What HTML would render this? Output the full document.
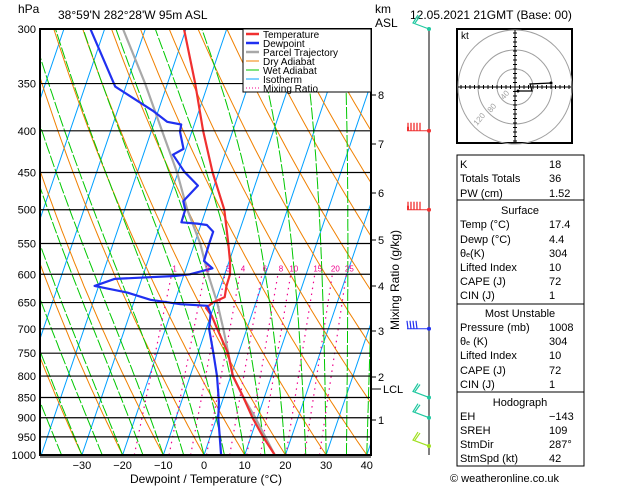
<!DOCTYPE html>
<html><head><meta charset="utf-8">
<style>
html,body{margin:0;padding:0;background:#fff;}
svg{display:block;font-family:"Liberation Sans",sans-serif;}
.t{font-size:12px;fill:#000;}
.s{font-size:10px;fill:#000;}
</style></head>
<body>
<svg id="c" width="629" height="486" viewBox="0 0 629 486">
<defs><clipPath id="pc"><rect x="40" y="29" width="331" height="426"/></clipPath></defs>
<g id="bg" clip-path="url(#pc)"></g>
<g id="fg" clip-path="url(#pc)"></g>
<g id="ax"></g>
<text class="t" x="18" y="13">hPa</text>
<text class="t" x="58" y="19">38°59'N  282°28'W  95m  ASL</text>
<text class="t" x="375" y="13">km</text>
<text class="t" x="375" y="27">ASL</text>
<text class="t" x="410" y="19">12.05.2021  21GMT  (Base: 00)</text>
<text class="t" x="206" y="483" text-anchor="middle">Dewpoint  /  Temperature  (°C)</text>
<text class="t" x="0" y="0" transform="translate(399,280) rotate(-90)" text-anchor="middle">Mixing  Ratio  (g/kg)</text>
<g>
<rect x="243" y="29" width="128" height="63" fill="#fff" stroke="#000" stroke-width="1"/>
<line x1="246" y1="34" x2="259" y2="34" stroke="#f03030" stroke-width="2.5"/><text class="s" x="263" y="38">Temperature</text>
<line x1="246" y1="43" x2="259" y2="43" stroke="#2030f0" stroke-width="2.5"/><text class="s" x="263" y="47">Dewpoint</text>
<line x1="246" y1="52" x2="259" y2="52" stroke="#a8a8a8" stroke-width="2.5"/><text class="s" x="263" y="56">Parcel  Trajectory</text>
<line x1="246" y1="61" x2="259" y2="61" stroke="#f08000" stroke-width="1"/><text class="s" x="263" y="65">Dry  Adiabat</text>
<line x1="246" y1="70" x2="259" y2="70" stroke="#00c800" stroke-width="1"/><text class="s" x="263" y="74">Wet  Adiabat</text>
<line x1="246" y1="79" x2="259" y2="79" stroke="#00a0ff" stroke-width="1"/><text class="s" x="263" y="83">Isotherm</text>
<line x1="246" y1="88" x2="259" y2="88" stroke="#f0008c" stroke-width="1" stroke-dasharray="1,2"/><text class="s" x="263" y="92">Mixing  Ratio</text>
</g>
<g id="hodo">
<rect x="457" y="29" width="115" height="114" fill="#fff" stroke="#000" stroke-width="2"/>
<text class="s" x="461" y="39">kt</text>
</g>
<g font-size="11">
<rect x="457" y="155" width="127" height="311" fill="none" stroke="#000" stroke-width="1"/>
<line x1="457" y1="200" x2="584" y2="200" stroke="#000"/>
<line x1="457" y1="304" x2="584" y2="304" stroke="#000"/>
<line x1="457" y1="392" x2="584" y2="392" stroke="#000"/>
<text x="460" y="168">K</text><text x="549" y="168">18</text>
<text x="460" y="182">Totals Totals</text><text x="549" y="182">36</text>
<text x="460" y="197">PW (cm)</text><text x="549" y="197">1.52</text>
<text x="520" y="214" text-anchor="middle">Surface</text>
<text x="460" y="228">Temp (°C)</text><text x="549" y="228">17.4</text>
<text x="460" y="243">Dewp (°C)</text><text x="549" y="243">4.4</text>
<text x="460" y="257">θ<tspan font-size="7">e</tspan>(K)</text><text x="549" y="257">304</text>
<text x="460" y="271">Lifted Index</text><text x="549" y="271">10</text>
<text x="460" y="285">CAPE (J)</text><text x="549" y="285">72</text>
<text x="460" y="299">CIN (J)</text><text x="549" y="299">1</text>
<text x="520" y="317" text-anchor="middle">Most Unstable</text>
<text x="460" y="331">Pressure (mb)</text><text x="549" y="331">1008</text>
<text x="460" y="345">θ<tspan font-size="7">e</tspan> (K)</text><text x="549" y="345">304</text>
<text x="460" y="359">Lifted Index</text><text x="549" y="359">10</text>
<text x="460" y="374">CAPE (J)</text><text x="549" y="374">72</text>
<text x="460" y="388">CIN (J)</text><text x="549" y="388">1</text>
<text x="520" y="406" text-anchor="middle">Hodograph</text>
<text x="460" y="420">EH</text><text x="549" y="420">−143</text>
<text x="460" y="434">SREH</text><text x="549" y="434">109</text>
<text x="460" y="448">StmDir</text><text x="549" y="448">287°</text>
<text x="460" y="462">StmSpd (kt)</text><text x="549" y="462">42</text>
</g>
<text x="450" y="482" font-size="11">© weatheronline.co.uk</text>
<g id="wind"></g>
</svg>
<script>
// ---- data ----
const isobars = [300,350,400,450,500,550,600,650,700,750,800,850,900,950,1000];
const tempTicks = [-30,-20,-10,0,10,20,30,40];
const tempP = [1000,950,900,850,800,750,700,675,660,650,640,620,600,580,550,500,450,400,350,300];
const tempT = [17.4,13.0,8.8,4.9,0.5,-2.6,-7.3,-9.7,-11.8,-10.6,-8.1,-8.6,-8.7,-9.7,-11.7,-15.5,-21.5,-27.3,-33.2,-40.5];
const dewP = [1000,900,860,800,750,700,670,656,653,645,632,620,608,603,600,590,578,550,532,522,520,518,500,488,467,449,428,421,401,393,390,378,353,300];
const dewT = [4.2,0.4,-0.8,-3.4,-6.2,-9.3,-10.2,-11.6,-18.4,-26.1,-32.4,-41,-36.7,-22.2,-18.6,-13.5,-16.2,-16.4,-16.4,-18.5,-21,-25,-25.1,-26.3,-24,-28.5,-32.7,-30.6,-32.9,-33.2,-36.9,-41.3,-52.6,-63.5];
const parcelP = [1000,900,850,800,700,650,600,550,500,450,400,350,300];
const parcelT = [17.4,9.5,4.9,0.5,-5.8,-9.5,-14.1,-18.6,-24.6,-30.2,-37.4,-45.5,-55.5];
const mixRatios = [1,2,3,4,6,8,10,15,20,25];
const mixLabels = ["1","2","3","4","6","8","10","15","20","25"];
const kmLabels = ["1","2","3","4","5","6","7","8"];
const kmY = [420,377,331,286,240,193,144,95];
const windP = [300,400,500,700,850,900,975];
const windColor = ["#20c8a0","#f03030","#f03030","#2030f0","#20c8a0","#20c8a0","#a0e020"];

const NS="http://www.w3.org/2000/svg";
function el(tag,attrs,parent){const e=document.createElementNS(NS,tag);for(const k in attrs)e.setAttribute(k,attrs[k]);parent.appendChild(e);return e;}
const Y0=29,Y1=455,LN=Math.log(1000/300);
function yP(p){return Y0+(Y1-Y0)*Math.log(p/300)/LN;}
function xT(t,p){return 204+4.07*t+0.34*(Y1-yP(p));}
function pathPT(ps,ts){return ps.map((p,i)=>(i?'L':'M')+xT(ts[i],p).toFixed(1)+','+yP(p).toFixed(1)).join('');}
const bg=document.getElementById('bg'),fg=document.getElementById('fg'),ax=document.getElementById('ax');

// isotherms
for(let t=-110;t<=40;t+=10){
  const l=el('line',{x1:xT(t,1000),y1:yP(1000),x2:xT(t,300),y2:yP(300),stroke:'#00a0ff','stroke-width':1},bg);
  
  
}
// dry adiabats
for(let th=-30;th<=200;th+=10){
  const ps=[],ts=[];
  for(let p=1000;p>=300;p-=10){ps.push(p);ts.push((th+273.15)*Math.pow(p/1000,0.286)-273.15);}
  const e=el('path',{d:pathPT(ps,ts),fill:'none',stroke:'#f08000','stroke-width':1},bg);
  
  
}
// wet adiabats
function es(tc){return 6.112*Math.exp(17.67*tc/(tc+243.5));}
for(let tw=-40;tw<=45;tw+=5){
  const ps=[],ts=[];let T=tw+273.15;
  for(let p=1000;p>=300;p-=5){
    ps.push(p);ts.push(T-273.15);
    const e=es(T-273.15),rs=0.622*e/(p-e);
    const dTdp=(287*T+2.5e6*rs)/(p*(1004+2.5e6*2.5e6*rs*0.622/(287*T*T)));
    T-=dTdp*5;
  }
  const e=el('path',{d:pathPT(ps,ts),fill:'none',stroke:'#00c800','stroke-width':1,'stroke-dasharray':'12,2'},bg);
  
  
}
// mixing ratio
function tdFromW(w,p){const e=w*p/(622+w);const a=Math.log(e/6.112);return 243.5*a/(17.67-a);}
mixRatios.forEach((w,i)=>{
  const e=el('line',{x1:xT(tdFromW(w,1000),1000),y1:yP(1000),x2:xT(tdFromW(w,600),600),y2:yP(600),stroke:'#f0008c','stroke-width':1.2,'stroke-dasharray':'1.5,4.5'},bg);
  
  
  const t=el('text',{x:xT(tdFromW(w,600),600)+3,y:yP(600)-3,'font-size':8,fill:'#f0008c','text-anchor':'middle'},ax);
  t.textContent=mixLabels[i];
  
  
});
// isobars
isobars.forEach(p=>{
  const l=el('line',{x1:40,y1:yP(p),x2:371,y2:yP(p),stroke:'#000','stroke-width':1.2},ax);
  
  
  const t=el('text',{x:36,y:yP(p)+4,'text-anchor':'end','font-size':11},ax);
  t.textContent=p;
  
  
});
// profiles
[[parcelP,parcelT,'#a8a8a8','parcel-trajectory'],[tempP,tempT,'#f03030','temperature-line'],[dewP,dewT,'#2030f0','dewpoint-line']].forEach(s=>{
  const e=el('path',{d:pathPT(s[0],s[1]),fill:'none',stroke:s[2],'stroke-width':2.2,'stroke-linejoin':'round'},fg);
  
  
});
// frame
const fr=el('rect',{x:40,y:29,width:331,height:426,fill:'none',stroke:'#000','stroke-width':2},ax);


el('line',{x1:40,y1:457,x2:371,y2:457,stroke:'#000','stroke-width':1},ax);
tempTicks.forEach(t=>{
  const x=204+4.07*t;
  const tx=el('text',{x:x,y:469,'text-anchor':'middle','font-size':11},ax);
  tx.textContent=t<0?'−'+(-t):t;
  
  
});
kmLabels.forEach((k,i)=>{
  el('line',{x1:371,y1:kmY[i],x2:376,y2:kmY[i],stroke:'#000'},ax);
  const t=el('text',{x:378,y:kmY[i]+4,'font-size':11},ax);
  t.textContent=k;
  
  
});
el('line',{x1:371,y1:389,x2:381,y2:389,stroke:'#000'},ax);
const lcl=el('text',{x:383,y:393,'font-size':11},ax);lcl.textContent='LCL';


// hodograph
const h=document.getElementById('hodo');const cx=515,cy=87;
[18,37,57].forEach(r=>{el('circle',{cx:cx,cy:cy,r:r,fill:'none',stroke:'#a0a0a0','stroke-width':1},h);});
el('line',{x1:458,y1:cy,x2:571,y2:cy,stroke:'#000'},h);
el('line',{x1:cx,y1:30,x2:cx,y2:142,stroke:'#000'},h);
for(let d=-54;d<=54;d+=4.5){el('line',{x1:cx+d,y1:cy-2,x2:cx+d,y2:cy+2,stroke:'#000'},h);el('line',{x1:cx-2,y1:cy+d,x2:cx+2,y2:cy+d,stroke:'#000'},h);}
[['40',-11,13],['80',-24,26],['120',-38,39]].forEach(a=>{const t=el('text',{x:cx+a[1],y:cy+a[2],'font-size':8,fill:'#a0a0a0',transform:`rotate(-50 ${cx+a[1]} ${cy+a[2]})`},h);t.textContent=a[0];});
el('polyline',{points:'518,91 532,91 530,84 551,83',fill:'none',stroke:'#000','stroke-width':1.2},h);
el('circle',{cx:518,cy:91,r:1.5,fill:'#000'},h);el('circle',{cx:551,cy:83,r:1.5,fill:'#000'},h);
// wind barbs
const w=document.getElementById('wind');
el('line',{x1:429,y1:29,x2:429,y2:455,stroke:'#000','stroke-width':1},w);
windP.forEach((p,i)=>{
  const y=yP(p),c=windColor[i];
  const g=el('g',{},w);
  
  
  el('circle',{cx:429,cy:y,r:2,fill:c},g);
  if(c==='#f03030'){
    el('line',{x1:407,y1:y,x2:429,y2:y,stroke:c},g);
    for(let k=0;k<5;k++)el('line',{x1:408+k*3,y1:y,x2:408+k*3,y2:y-8,stroke:c,'stroke-width':1.3},g);
    el('rect',{x:407,y:y-4,width:2,height:4,fill:c},g);
  }else if(c==='#2030f0'){
    el('line',{x1:407,y1:y,x2:429,y2:y,stroke:c},g);
    for(let k=0;k<4;k++)el('line',{x1:408+k*3,y1:y,x2:407+k*3,y2:y-8,stroke:c,'stroke-width':1.2},g);
  }else{
    el('polyline',{points:`429,${y} 413,${y-6} 418,${y-14}`,fill:'none',stroke:c,'stroke-width':1.2},g);
    el('line',{x1:415,y1:y-6,x2:420,y2:y-13,stroke:c,'stroke-width':1.2},g);
  }
});
</script>
</body></html>
